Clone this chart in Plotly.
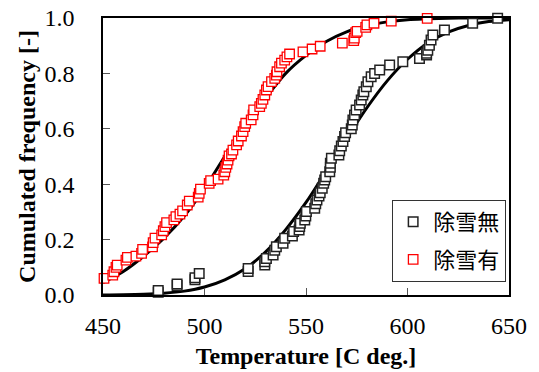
import plotly.graph_objects as go

# Observed data: 除雪無 (black) and 除雪有 (red)
black_T = [477.2, 477.2, 486.5, 486.5, 495.3, 495.3, 497.4, 521.5, 521.5, 529.7, 529.7, 530.5,
           533.8, 534.6, 535.4, 538.7, 539.5, 543.3, 543.9, 546.6, 546.9, 547.2, 549.4, 549.9,
           550.2, 554.3, 554.8, 555.4, 556.4, 557.0, 558.0, 558.7, 559.2, 559.7, 561.7, 562.0,
           562.0, 562.5, 566.2, 566.6, 567.4, 568.2, 569.0, 569.5, 572.3, 572.8, 573.1, 573.9,
           574.7, 576.4, 577.2, 578.0, 578.5, 579.7, 580.5, 582.1, 583.8, 586.3, 591.2, 597.7,
           605.9, 609.4, 609.4, 610.0, 610.8, 611.6, 612.5, 618.2, 632.1, 644.4]
black_F = [0.010, 0.016, 0.034, 0.040, 0.055, 0.062, 0.078, 0.085, 0.096, 0.108, 0.120, 0.132,
           0.144, 0.162, 0.174, 0.187, 0.205, 0.213, 0.229, 0.235, 0.247, 0.259, 0.271, 0.285,
           0.301, 0.313, 0.329, 0.343, 0.357, 0.369, 0.385, 0.403, 0.415, 0.427, 0.445, 0.461,
           0.476, 0.494, 0.505, 0.521, 0.538, 0.554, 0.572, 0.586, 0.600, 0.614, 0.632, 0.650,
           0.668, 0.686, 0.704, 0.722, 0.734, 0.752, 0.770, 0.788, 0.800, 0.812, 0.830, 0.842,
           0.854, 0.866, 0.873, 0.884, 0.902, 0.921, 0.939, 0.957, 0.981, 0.999]

red_T = [450.5, 454.8, 455.4, 456.4, 457.0, 461.3, 462.0, 466.2, 469.0, 469.5, 474.4, 474.7,
         475.6, 478.9, 479.7, 480.5, 481.3, 484.9, 485.9, 487.9, 489.2, 491.5, 492.5, 496.9,
         497.4, 498.0, 502.3, 503.0, 506.7, 509.5, 510.0, 510.5, 511.1, 511.6, 512.1, 513.3,
         514.0, 515.8, 516.6, 518.2, 519.0, 519.8, 520.3, 523.0, 523.9, 524.2, 527.2, 528.0,
         528.8, 529.7, 530.5, 531.3, 533.0, 534.6, 535.4, 535.7, 537.0, 537.9, 539.5, 540.6,
         541.9, 548.5, 553.0, 557.0, 567.9, 573.5, 573.8, 574.5, 575.2, 579.4, 580.0, 583.5,
         592.0, 609.7]
red_F = [0.060, 0.072, 0.084, 0.100, 0.108, 0.126, 0.136, 0.140, 0.150, 0.165, 0.174, 0.189,
         0.205, 0.217, 0.232, 0.247, 0.261, 0.271, 0.283, 0.292, 0.304, 0.325, 0.339, 0.353,
         0.367, 0.382, 0.403, 0.413, 0.418, 0.433, 0.445, 0.461, 0.473, 0.487, 0.502, 0.509,
         0.523, 0.542, 0.556, 0.574, 0.590, 0.608, 0.620, 0.632, 0.650, 0.668, 0.680, 0.692,
         0.706, 0.722, 0.740, 0.752, 0.770, 0.782, 0.794, 0.806, 0.824, 0.837, 0.848, 0.860,
         0.870, 0.878, 0.888, 0.898, 0.909, 0.918, 0.927, 0.947, 0.952, 0.966, 0.975, 0.981,
         0.989, 0.999]

# Fitted curves
curve_T = [450, 460, 470, 480, 490, 500, 510, 520, 530, 540, 550, 560, 570, 580, 590, 600,
           610, 620, 630, 640, 650]
red_fit = [0.045, 0.085, 0.14, 0.205, 0.285, 0.385, 0.50, 0.61, 0.71, 0.80, 0.865, 0.915,
           0.95, 0.972, 0.986, 0.994, 0.997, 0.999, 1.0, 1.0, 1.0]
black_fit = [0.0004, 0.001, 0.0027, 0.0064, 0.014, 0.029, 0.055, 0.095, 0.155, 0.236, 0.334,
             0.448, 0.564, 0.676, 0.773, 0.851, 0.91, 0.949, 0.973, 0.987, 0.994]

x_ticks = [450, 500, 550, 600, 650]
y_ticks = [0.0, 0.2, 0.4, 0.6, 0.8, 1.0]

SERIF = "Liberation Serif"
CJK = "Noto Sans CJK JP"

fig = go.Figure()
fig.add_trace(go.Scatter(x=curve_T, y=black_fit, mode="lines", line=dict(color="black", width=3, shape="spline"),
                         showlegend=False, hoverinfo="skip"))
fig.add_trace(go.Scatter(x=curve_T, y=red_fit, mode="lines", line=dict(color="black", width=3, shape="spline"),
                         showlegend=False, hoverinfo="skip"))
fig.add_trace(go.Scatter(x=black_T, y=black_F, mode="markers", name="除雪無", legendgroup="a",
                         marker=dict(symbol="square", size=9.5, color="white",
                                     line=dict(color="#222222", width=1.5)),
                         cliponaxis=False))
fig.add_trace(go.Scatter(x=red_T, y=red_F, mode="markers", name="除雪有", legendgroup="b",
                         marker=dict(symbol="square", size=9.5, color="white",
                                     line=dict(color="#ff0000", width=1.3)),
                         cliponaxis=False))

fig.update_layout(
    width=539, height=372,
    margin=dict(l=103, r=30, t=18, b=77, autoexpand=False),
    plot_bgcolor="white", paper_bgcolor="white",
    font=dict(family=SERIF, size=24, color="black"),
    showlegend=True,
    legend=dict(x=0.993, y=0.047, xanchor="right", yanchor="bottom",
                bgcolor="white", bordercolor="#333333", borderwidth=1,
                font=dict(family=CJK, size=22, color="black"),
                tracegroupgap=6, itemwidth=30),
    xaxis=dict(range=[450, 650], tickvals=x_ticks, ticktext=[str(v) for v in x_ticks],
               ticks="inside", ticklen=7, tickcolor="#555555", tickwidth=1.2,
               showline=True, linecolor="black", linewidth=1.5, mirror=True, automargin=False,
               showgrid=False, zeroline=False, ticklabelstandoff=8, ticklabeloverflow="allow",
               tickfont=dict(family=SERIF, size=24),
               title=dict(text="<b>Temperature [C deg.]</b>", font=dict(family=SERIF, size=24), standoff=10)),
    yaxis=dict(range=[0, 1], tickvals=y_ticks, ticktext=["%.1f" % v for v in y_ticks],
               ticks="inside", ticklen=7, tickcolor="#555555", tickwidth=1.2,
               showline=True, linecolor="black", linewidth=1.5, mirror=True, automargin=False,
               showgrid=False, zeroline=False, ticklabelstandoff=22, ticklabeloverflow="allow",
               tickfont=dict(family=SERIF, size=24),
               title=dict(text="<b>Cumulated frequency [-]</b>", font=dict(family=SERIF, size=24), standoff=2)),
)

fig.write_html("out.html", config={"displayModeBar": False},
               post_script="document.body.style.margin='0';")
